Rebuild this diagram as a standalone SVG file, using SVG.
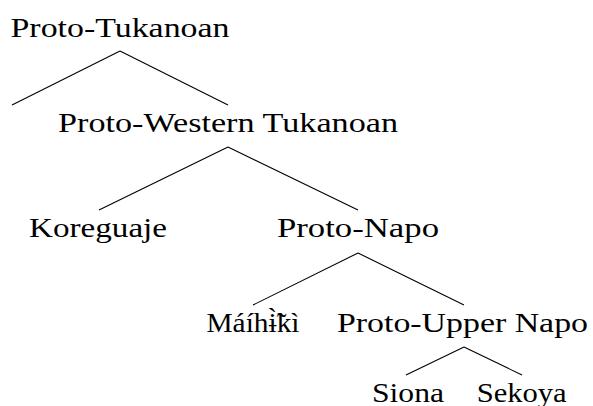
<svg xmlns="http://www.w3.org/2000/svg" width="593" height="406" viewBox="0 0 593 406">
<style>
text{font-family:"Liberation Serif","DejaVu Serif",serif;font-size:28px;fill:#000;text-anchor:middle}
.e{stroke:#000;stroke-width:1.1;fill:none}
</style>
<rect width="593" height="406" fill="#fff"/>
<g id="edges">
<path class="e" d="M120,51 L12,105 M120,51 L228,105"/>
<path class="e" d="M228,147 L99,210 M228,147 L358,210"/>
<path class="e" d="M358,253 L253,305 M358,253 L464,305"/>
<path class="e" d="M464,347 L406,375 M464,347 L522,375"/>
</g>
<g id="n-root"><text x="120" y="37" textLength="219" lengthAdjust="spacingAndGlyphs">Proto-Tukanoan</text></g>
<g id="n-pwt"><text x="228" y="132" textLength="340" lengthAdjust="spacingAndGlyphs">Proto-Western Tukanoan</text></g>
<g id="n-kor"><text x="98" y="237" textLength="138" lengthAdjust="spacingAndGlyphs">Koreguaje</text></g>
<g id="n-pn"><text x="358" y="237" textLength="162" lengthAdjust="spacingAndGlyphs">Proto-Napo</text></g>
<g id="n-mai"><text x="253" y="332" textLength="93" lengthAdjust="spacingAndGlyphs">Máíhɨ̃̀kì</text></g>
<g id="n-pun"><text x="462.5" y="332" textLength="251" lengthAdjust="spacingAndGlyphs">Proto-Upper Napo</text></g>
<g id="n-sio"><text x="408" y="402" textLength="72" lengthAdjust="spacingAndGlyphs">Siona</text></g>
<g id="n-sek"><text x="521.7" y="402" textLength="90" lengthAdjust="spacingAndGlyphs">Sekoya</text></g>
</svg>
